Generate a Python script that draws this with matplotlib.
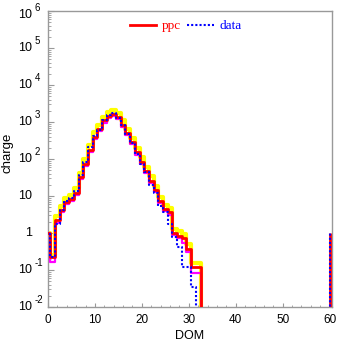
import numpy as np
import matplotlib
matplotlib.use("Agg")
import matplotlib.pyplot as plt
from matplotlib.ticker import FixedLocator, LogLocator, NullFormatter, MultipleLocator
from matplotlib.transforms import offset_copy

plt.rcParams["font.family"] = ["Liberation Sans", "DejaVu Sans"]

# charge per DOM (bins centred on integers, DOM 0 .. 32)
ppc = [1.0, 0.22, 2.2, 4.2, 7.0, 8.5, 12, 33, 72, 175, 400, 650, 1100, 1450,
       1650, 1350, 850, 500, 290, 150, 82, 48, 26, 14.5, 7.2, 4.4, 3.6, 1.0,
       0.85, 0.72, 0.38, 0.12, 0.12]
ppc_hi = [1.0, 0.26, 2.9, 5.4, 9.0, 10.6, 16, 42, 98, 240, 520, 850, 1400, 1900,
          2150, 1750, 1100, 650, 380, 200, 110, 62, 34, 19, 9.5, 5.8, 4.6, 1.3,
          1.1, 0.95, 0.5, 0.155, 0.155]
ppc_lo = [1.0, 0.165, 1.9, 3.7, 6.2, 7.5, 10.5, 29, 63, 155, 350, 570, 960, 1270,
          1450, 1180, 740, 440, 255, 130, 72, 42, 23, 12.7, 6.3, 3.9, 3.1, 0.88,
          0.72, 0.55, 0.3, 0.085, 0.085]
# data, DOM 0 .. 31
data = [1.0, 0.22, 1.7, 4.2, 7.5, 8.8, 14, 36, 85, 210, 420, 620, 1150, 1500,
        1700, 1300, 820, 480, 270, 140, 75, 45, 20, 12, 5.5, 3.6, 1.8, 0.8,
        0.43, 0.12, 0.12, 0.035]

# isolated DOM 60 entry
dom_last = 60
ppc_last = 1.0
data_last = 1.0

# y tick labels: (value, base text, exponent text)
ytick_vals = [1e-2, 1e-1, 1, 10, 1e2, 1e3, 1e4, 1e5, 1e6]
ytick_base = ["10", "10", "1", "10", "10", "10", "10", "10", "10"]
ytick_exp = ["-2", "-1", "", "", "2", "3", "4", "5", "6"]

FLOOR = 1e-3  # below the frame, used for empty bins


def draw_hist(ax, vals, **kw):
    v = np.asarray(vals, dtype=float)
    edges = np.arange(len(v) + 1) - 0.5
    y = np.concatenate([v, [FLOOR]])
    ax.step(edges, y, where="post", **kw)


fig = plt.figure(figsize=(3.37, 3.44), dpi=100)
ax = fig.add_axes([0.1424, 0.1076, 0.8427, 0.8605])

draw_hist(ax, ppc_hi, color="#ffff00", lw=3.0, zorder=2)
draw_hist(ax, ppc_lo, color="#ff00ff", lw=1.6, zorder=3)
draw_hist(ax, ppc, color="#ff0000", lw=2.0, zorder=4, label="ppc")
draw_hist(ax, data, color="#0000ff", lw=1.5, ls=(0, (1, 1)), zorder=5, label="data")

ax.vlines(dom_last, FLOOR, ppc_last, color="#ff0000", lw=2.0, zorder=4)
ax.vlines(dom_last, FLOOR, data_last, color="#0000ff", lw=1.5,
          linestyles=[(0, (1, 1))], zorder=5)

ax.set_yscale("log")
ax.set_xlim(0, 60.5)
ax.set_ylim(1e-2, 1e6)

ax.yaxis.set_major_locator(FixedLocator(ytick_vals))
ax.yaxis.set_major_formatter(NullFormatter())
ax.yaxis.set_minor_locator(LogLocator(base=10, subs=np.arange(2, 10), numticks=20))
ax.yaxis.set_minor_formatter(NullFormatter())

ax.xaxis.set_major_locator(MultipleLocator(10))
ax.xaxis.set_minor_locator(MultipleLocator(2))

for s in ax.spines.values():
    s.set_color("#999999")
    s.set_linewidth(1.0)

ax.tick_params(axis="both", which="both", direction="in", colors="#999999",
               labelcolor="black", labelsize=8.5, top=False, right=False)
ax.tick_params(axis="y", which="major", length=4.0)
ax.tick_params(axis="y", which="minor", length=2.0)
ax.tick_params(axis="x", which="major", length=3.0, pad=5)
ax.tick_params(axis="x", which="minor", length=1.8)

# ROOT-style "10^n" labels on the y axis
ytrans = ax.get_yaxis_transform()
for val, base, ex in zip(ytick_vals, ytick_base, ytick_exp):
    dy = -4 if val == 1e6 else 0
    ax.text(0, val, base, fontsize=9, ha="right", va="center", clip_on=False,
            transform=offset_copy(ytrans, fig=fig, x=-16, y=dy, units="dots"))
    if ex:
        ax.text(0, val, ex, fontsize=7, ha="left", va="center", clip_on=False,
                transform=offset_copy(ytrans, fig=fig, x=-13, y=dy + 7, units="dots"))

ax.set_xlabel("DOM", fontsize=9, labelpad=3)
ax.set_ylabel("charge", fontsize=9.5)
ax.yaxis.set_label_coords(-0.12, 0.52)

ax.legend(loc="upper center", bbox_to_anchor=(0.485, 1.0), ncol=2, frameon=False,
          prop={"family": "Liberation Serif", "size": 9.5},
          handlelength=2.0, handletextpad=0.4, columnspacing=0.5,
          borderaxespad=0.3, labelcolor="linecolor")

fig.savefig("out.png", dpi=100)
